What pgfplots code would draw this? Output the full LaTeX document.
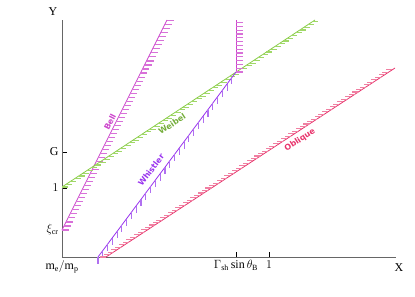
\documentclass[border=0pt]{standalone}
\usepackage{fontspec}
\setmainfont{Liberation Serif}
\newfontfamily\labfont{DejaVu Sans}
\usepackage{pgfplots}
\pgfplotsset{compat=1.18}
\usetikzlibrary{decorations.markings}
\definecolor{bellc}{HTML}{CC44CC}
\definecolor{bellh}{HTML}{D870D8}
\definecolor{weic}{HTML}{88CC44}
\definecolor{weih}{HTML}{A0D868}
\definecolor{whic}{HTML}{9933EE}
\definecolor{whih}{HTML}{B070F0}
\definecolor{oblc}{HTML}{E8336B}
\definecolor{oblh}{HTML}{F080A2}
\definecolor{axc}{HTML}{666666}
\tikzset{
  hatch/.style n args={3}{postaction={decorate,decoration={markings,
    mark=between positions 0 and 1 step #1 with {\pgftransformresetnontranslations
      \draw[#2,line width=1.1bp] (0,0)--#3;}}}}
}
\begin{document}
\begin{tikzpicture}
\begin{axis}[
  scale only axis, width=334bp, height=237bp,
  xmin=0, xmax=334, ymin=0, ymax=237,
  axis lines=left, axis line style={-, axc, line width=0.8bp},
  tick align=inside, major tick length=5bp,
  tick style={black, line width=0.6bp},
  xtick={0,174,207}, xticklabels={$\mathrm{m_e/m_p}$, $\Gamma_{\mathrm{sh}}\sin\theta_{\mathrm{B}}$, $1$},
  ytick={27,69,105}, yticklabels={$\xi_{\mathrm{cr}}$, $1$, G},
  ticklabel style={font=\fontsize{12}{13}\selectfont},
  every axis x label/.style={at={(axis description cs:1.009,-0.012)}, anchor=north},
  every axis y label/.style={at={(axis description cs:-0.027,1.004)}, anchor=south},
  xlabel={X}, ylabel={Y},
  label style={font=\fontsize{12}{13}\selectfont},
  clip=false,
]
\path (axis cs:-62,-40) rectangle (axis cs:353,257);
% Bell
\addplot[bellc, line width=0.8bp, hatch={4.5bp}{bellh}{(7bp,0)}] coordinates {(0,27) (105,237)};
% Weibel
\addplot[weic, line width=0.8bp, hatch={5bp}{weih}{(6bp,0)}] coordinates {(0,70) (253,237)};
% Whistler
\addplot[whic, line width=0.8bp, hatch={8bp}{whih}{(0,-7bp)}] coordinates {(36,0) (174,185)};
% vertical limit
\addplot[bellc, line width=0.8bp, hatch={3.8bp}{bellh}{(7bp,0)}] coordinates {(174,185) (174,237)};
% Oblique
\addplot[oblc, line width=0.8bp, hatch={4.5bp}{oblh}{(-6bp,0)}] coordinates {(44,0) (333,189)};
\node[bellc, rotate=63.4, font=\labfont\bfseries\fontsize{8}{9}\selectfont] at (axis cs:48,135) {Bell};
\node[weic!85!black, rotate=33.4, font=\labfont\bfseries\fontsize{8}{9}\selectfont] at (axis cs:110,133) {Weibel};
\node[whic, rotate=53.3, font=\labfont\bfseries\fontsize{8}{9}\selectfont] at (axis cs:89,87) {Whistler};
\node[oblc, rotate=33.2, font=\labfont\bfseries\fontsize{8}{9}\selectfont] at (axis cs:238,117) {Oblique};
\end{axis}
\end{tikzpicture}
\end{document}
